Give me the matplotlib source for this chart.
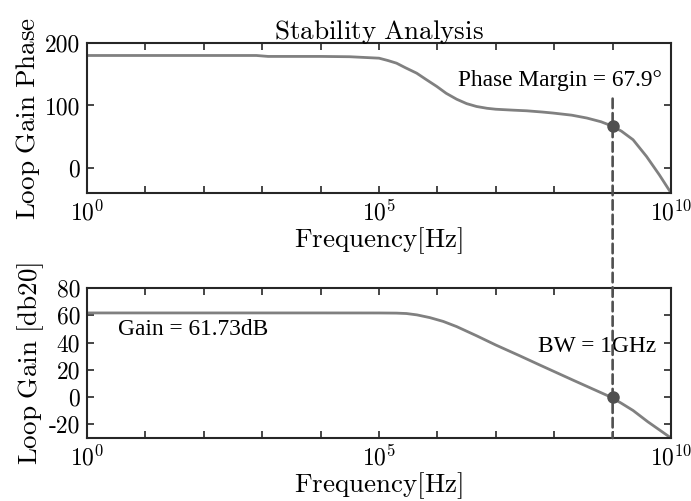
import numpy as np
import matplotlib
matplotlib.use("Agg")
import matplotlib.pyplot as plt
from matplotlib.ticker import FixedLocator, FuncFormatter
from matplotlib.patches import ConnectionPatch

# Loop-gain Bode data (frequency as decade exponent)
freq_exp = [0, 1, 2, 2.9, 3.1, 4, 4.5, 5, 5.15, 5.3, 5.45, 5.645, 5.8, 5.99,
            6.15, 6.33, 6.5, 6.67, 6.85, 7.0, 7.3, 7.53, 7.8, 7.98, 8.3,
            8.56, 8.8, 8.97, 9.15, 9.35, 9.58, 9.8, 10]
phase_deg = [180, 180, 180, 180, 178.5, 178.5, 178, 175.7, 172, 167.7, 160.5,
             151.7, 142, 130.4, 119.5, 110, 103, 98.4, 95.5, 94, 92.5, 91.5,
             89.5, 87.9, 84.5, 79.9, 74, 67.9, 59, 45.2, 18.5, -11, -40]

gain_exp = [0, 1, 2, 3, 4, 5, 5.3, 5.47, 5.65, 5.87, 6.1, 6.33, 6.67, 7.0,
            7.4, 7.76, 8.33, 8.97, 9.15, 9.35, 9.6, 9.8, 10]
gain_db = [61.73, 61.73, 61.73, 61.73, 61.73, 61.7, 61.6, 61.3, 60.3, 58.3,
           55.5, 51.7, 45, 38.2, 30.5, 23.4, 12.3, 0, -4.5, -9.8, -18, -24,
           -30]

unity_freq = 1e9
phase_margin = 67.9
dc_gain = 61.73

phase_ticks = [0, 100, 200]
gain_ticks = [-20, 0, 20, 40, 60, 80]
x_label_exps = [0, 5, 10]

plt.rcParams["mathtext.fontset"] = "cm"
plt.rcParams["font.family"] = "cmr10"
plt.rcParams["axes.unicode_minus"] = False
plt.rcParams["axes.formatter.use_mathtext"] = True

line_c = "#808080"
mark_c = "#505050"
spine_c = "#262626"
tick_fs = 17
label_fs = 19.5
note_font = dict(family="Liberation Serif", fontsize=16.8)

fig = plt.figure(figsize=(6.91, 5.01), dpi=100)
ax1 = fig.add_axes([0.1259, 0.6148, 0.8452, 0.2994])
ax2 = fig.add_axes([0.1259, 0.1257, 0.8452, 0.2994])

freq = 10.0 ** np.array(freq_exp)
gfreq = 10.0 ** np.array(gain_exp)


def style(ax, yticks, ylim):
    ax.set_xscale("log")
    ax.set_xlim(1, 1e10)
    ax.set_ylim(*ylim)
    ax.xaxis.set_major_locator(FixedLocator([10.0 ** k for k in range(11)]))
    ax.xaxis.set_minor_locator(FixedLocator([]))
    ax.xaxis.set_major_formatter(FuncFormatter(
        lambda v, p: r"$10^{%d}$" % round(np.log10(v))
        if round(np.log10(v)) in x_label_exps else ""))
    ax.set_yticks(yticks)
    ax.set_yticklabels([str(t) for t in yticks])
    ax.tick_params(direction="in", top=True, right=True, length=5,
                   width=1.2, color=spine_c, labelsize=tick_fs, pad=5)
    for s in ax.spines.values():
        s.set_linewidth(1.5)
        s.set_color(spine_c)
    ax.set_xlabel(r"$\mathrm{Frequency[Hz]}$", fontsize=label_fs, labelpad=0)


style(ax1, phase_ticks, (-40, 200))
style(ax2, gain_ticks, (-30, 80))

ax1.plot(freq, phase_deg, color=line_c, lw=2.0, zorder=2)
ax2.plot(gfreq, gain_db, color=line_c, lw=2.0, zorder=2)

ax1.plot([unity_freq], [phase_margin], "o", color=mark_c, ms=8, zorder=4)
ax2.plot([unity_freq], [0], "o", color=mark_c, ms=8, zorder=4)

con = ConnectionPatch(xyA=(unity_freq, 111), coordsA=ax1.transData,
                      xyB=(unity_freq, -30), coordsB=ax2.transData,
                      color=mark_c, lw=1.9, linestyle=(0, (3.6, 1.9)),
                      zorder=3)
fig.add_artist(con)

ax1.set_ylabel(r"$\mathrm{Loop\ Gain\ Phase}$", fontsize=label_fs, labelpad=2)
ax2.set_ylabel(r"$\mathrm{Loop\ Gain\ [db20]}$", fontsize=label_fs, labelpad=2)
ax1.set_title(r"$\mathrm{Stability\ Analysis}$", fontsize=label_fs, pad=3)

ax1.text(10 ** 6.35, 139.7, "Phase Margin = %.1f°" % phase_margin,
         va="center", ha="left", **note_font)
ax2.text(10 ** 0.53, 49.5, "Gain = %.2fdB" % dc_gain,
         va="center", ha="left", **note_font)
ax2.text(10 ** 7.72, 36.9, "BW = 1GHz", va="center", ha="left",
         zorder=2, **note_font)

fig.savefig("out.png", dpi=100)
